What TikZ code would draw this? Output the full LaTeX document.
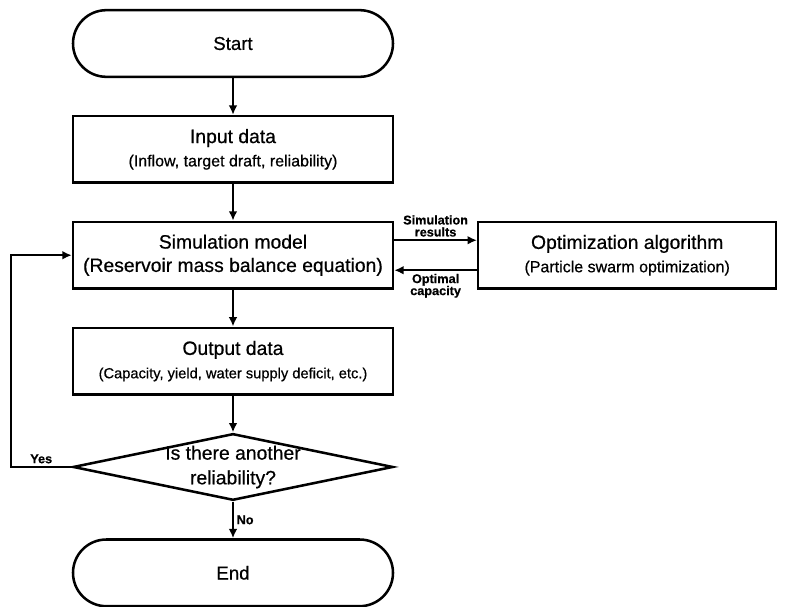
\documentclass[tikz,border=0pt]{standalone}
\usepackage{fontspec}
\setmainfont[FakeBold=0.6]{Liberation Sans}
\usetikzlibrary{positioning, arrows.meta, shapes.geometric}
\newcommand{\subline}[1]{{\fontsize{12}{17.5}\selectfont #1}}

\begin{document}
\begin{tikzpicture}[
  x=0.75pt, y=-0.75pt,
  >={Latex[length=7pt, width=6.5pt]},
  every node/.style={font=\fontsize{14.5}{17.5}\selectfont},
  box/.style      = {draw, line width=1.9pt, align=center, minimum width=240pt, minimum height=50pt, inner sep=0pt},
  term/.style     = {box, rounded corners=25pt, font=\fontsize{14}{16}\selectfont},
  decision/.style = {draw, line width=1.9pt, diamond, minimum width=240pt, minimum height=50pt, inner sep=0pt},
  tag/.style      = {font=\fontsize{9.5}{9}\selectfont\bfseries, align=center, inner sep=2pt},
  arr/.style      = {->, line width=1.5pt},
]
  \useasboundingbox (0,0) rectangle (786,607);
  % Main column: start at top -> end at bottom.
  \node[term]                            (start)  at (233,43.5) {Start};
  \node[box, below=27.5pt of start]      (input)  {Input data\\\subline{(Inflow, target draft, reliability)}};
  \node[box, below=27.5pt of input]      (sim)    {Simulation model\\(Reservoir mass balance equation)};
  \node[box, below=27.5pt of sim]        (output) {Output data\\{\fontsize{11}{17.5}\selectfont (Capacity, yield, water supply deficit, etc.)}};
  \node[decision, below=27.5pt of output] (dec) {};
  \node[align=center, font=\fontsize{14.5}{18.5}\selectfont] (ask) at (dec.center) {Is there another\\reliability?};
  \node[term, below=27.5pt of dec]       (finish) {End};
  % Side box: optimizer.
  \node[box, minimum width=223.5pt, right=62pt of sim] (opt) {Optimization algorithm\\\subline{(Particle swarm optimization)}};
  \foreach \a/\b in {start/input, input/sim, sim/output, output/dec}
     \draw[arr] (\a) -- (\b);
  \draw[arr] (dec) -- node[tag, right] (no) {No} (finish);
  \draw[arr] ([yshift=11.25pt]sim.east) -- node[tag, above] (res) {Simulation\\results} ([yshift=11.25pt]opt.west);
  \draw[arr] ([yshift=-11.25pt]opt.west) -- node[tag, below] (cap) {Optimal\\capacity} ([yshift=-11.25pt]sim.east);
  \draw[arr] (dec.west) -- node[tag, above] (yes) {Yes} ++(-61,0) |- (sim.west);
\end{tikzpicture}
\end{document}
